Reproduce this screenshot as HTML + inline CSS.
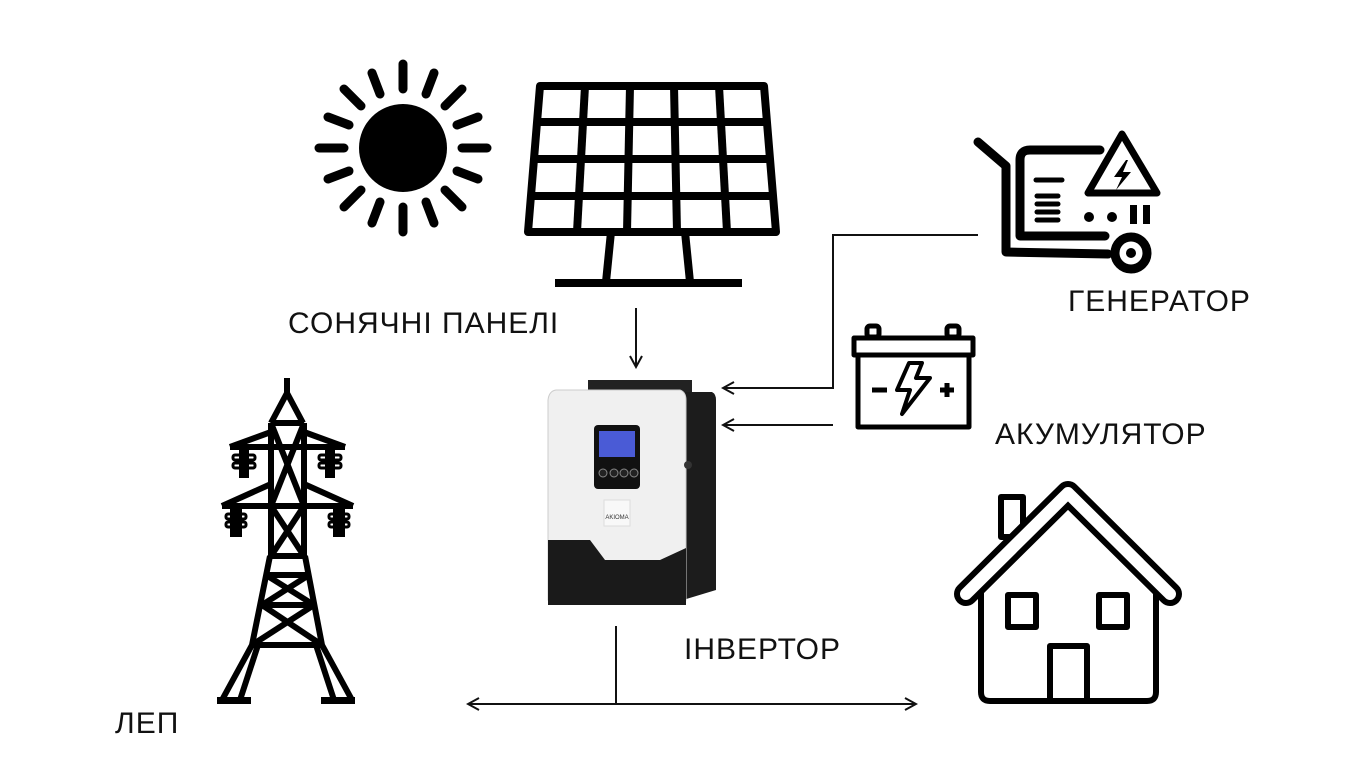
<!DOCTYPE html>
<html><head><meta charset="utf-8"><style>
html,body{margin:0;padding:0;background:#fff;width:1366px;height:768px;overflow:hidden}
svg{position:absolute;left:0;top:0}
.t{font-family:"Liberation Sans",sans-serif;font-size:30px;fill:#111;letter-spacing:1px;font-weight:normal}
</style></head><body>
<svg width="1366" height="768" viewBox="0 0 1366 768">
<defs>
<marker id="ah" markerWidth="14" markerHeight="14" refX="12" refY="7" orient="auto" markerUnits="userSpaceOnUse">
<path d="M1,1 L12,7 L1,13" fill="none" stroke="#111" stroke-width="2"/>
</marker>
</defs>
<!-- sun -->
<circle cx="403" cy="148" r="44" fill="#000"/>
<g stroke="#000" stroke-width="9" stroke-linecap="round">
<line x1="403" y1="89" x2="403" y2="64"/><line x1="403" y1="207" x2="403" y2="232"/>
<line x1="344" y1="148" x2="319" y2="148"/><line x1="462" y1="148" x2="487" y2="148"/>
<line x1="361" y1="106" x2="344" y2="89"/><line x1="445" y1="106" x2="462" y2="89"/>
<line x1="361" y1="190" x2="344" y2="207"/><line x1="445" y1="190" x2="462" y2="207"/>
<line x1="380" y1="94" x2="372" y2="73"/><line x1="426" y1="94" x2="434" y2="73"/>
<line x1="380" y1="202" x2="372" y2="223"/><line x1="426" y1="202" x2="434" y2="223"/>
<line x1="349" y1="125" x2="328" y2="117"/><line x1="457" y1="125" x2="478" y2="117"/>
<line x1="349" y1="171" x2="328" y2="179"/><line x1="457" y1="171" x2="478" y2="179"/>
</g>
<!-- panel -->
<g stroke="#000" stroke-width="8" fill="none" stroke-linejoin="round">
<path d="M540,86 L764,86 L776,232 L528,232 Z"/>
<line x1="585" y1="86" x2="577" y2="232"/><line x1="630" y1="86" x2="627" y2="232"/>
<line x1="674" y1="86" x2="677" y2="232"/><line x1="719" y1="86" x2="727" y2="232"/>
<line x1="537" y1="122" x2="767" y2="122"/><line x1="534" y1="159" x2="770" y2="159"/>
<line x1="531" y1="196" x2="773" y2="196"/>
<line x1="611" y1="232" x2="606" y2="282"/><line x1="685" y1="232" x2="690" y2="282"/>
<line x1="555" y1="283" x2="742" y2="283"/>
</g>
<text class="t" x="288" y="333">СОНЯЧНІ ПАНЕЛІ</text>
<!-- arrows -->
<g stroke="#111" stroke-width="2" fill="none">
<line x1="636" y1="308" x2="636" y2="367" marker-end="url(#ah)"/>
<polyline points="978,235 833,235 833,388 723,388" marker-end="url(#ah)"/>
<line x1="833" y1="425" x2="723" y2="425" marker-end="url(#ah)"/>
<line x1="616" y1="626" x2="616" y2="704"/>
<line x1="616" y1="704" x2="468" y2="704" marker-end="url(#ah)"/>
<line x1="616" y1="704" x2="916" y2="704" marker-end="url(#ah)"/>
</g>
<!-- inverter -->
<rect x="588" y="380" width="104" height="12" fill="#222"/>
<path d="M683,392 L712,392 Q716,394 716,400 L716,590 L683,600 Z" fill="#1c1c1c"/>
<path d="M556,390 L680,390 Q686,392 686,400 L686,600 L548,600 L548,400 Q549,391 556,390 Z" fill="#f0f0f0" stroke="#ccc"/>
<path d="M548,540 L590,540 L605,560 L660,560 L686,548 L686,605 L548,605 Z" fill="#1a1a1a"/>
<rect x="594" y="425" width="46" height="64" rx="4" fill="#111"/>
<rect x="599" y="431" width="36" height="26" fill="#4a5bd6"/>
<g fill="#222" stroke="#888" stroke-width="1"><circle cx="603" cy="473" r="4"/><circle cx="614" cy="473" r="4"/><circle cx="624" cy="473" r="4"/><circle cx="634" cy="473" r="4"/></g>
<rect x="604" y="500" width="26" height="26" fill="#f8f8f8" stroke="#ddd"/>
<text x="617" y="519" font-size="6" text-anchor="middle" font-family="Liberation Sans" fill="#333">AKIOMA</text>
<circle cx="688" cy="465" r="4" fill="#333"/>
<text class="t" x="684" y="659">ІНВЕРТОР</text>
<!-- generator -->
<g stroke="#000" stroke-width="9" fill="none" stroke-linecap="round" stroke-linejoin="round">
<polyline points="978,142 1006,166 1006,252 1108,254"/>
<path d="M1100,150 L1030,150 Q1020,150 1020,160 L1020,236 L1105,236"/>
<path d="M1122,134 L1088,193 L1157,193 Z" stroke-width="7"/>
</g>
<g stroke="#000" stroke-width="5" stroke-linecap="round">
<line x1="1036" y1="180" x2="1062" y2="180"/><line x1="1037" y1="196" x2="1058" y2="196"/>
<line x1="1037" y1="204" x2="1058" y2="204"/><line x1="1037" y1="212" x2="1058" y2="212"/>
<line x1="1037" y1="220" x2="1058" y2="220"/>
</g>
<path d="M1126,160 L1114,177 L1122,177 L1116,190 L1131,172 L1123,172 L1128,160 Z" fill="#000"/>
<circle cx="1089" cy="217" r="5" fill="#000"/><circle cx="1112" cy="217" r="5" fill="#000"/>
<rect x="1130" y="205" width="7" height="19" fill="#000"/><rect x="1143" y="205" width="7" height="19" fill="#000"/>
<circle cx="1131" cy="253" r="16" fill="none" stroke="#000" stroke-width="9"/>
<circle cx="1131" cy="253" r="5" fill="#000"/>
<text class="t" x="1068" y="311">ГЕНЕРАТОР</text>
<!-- battery -->
<g stroke="#000" stroke-width="5" fill="none" stroke-linejoin="round">
<rect x="867" y="326" width="12" height="11" rx="3"/><rect x="947" y="326" width="12" height="11" rx="3"/>
<rect x="854" y="338" width="119" height="17"/>
<rect x="858" y="355" width="111" height="72"/>
<line x1="872" y1="390" x2="887" y2="390"/>
<line x1="940" y1="390" x2="954" y2="390"/><line x1="947" y1="383" x2="947" y2="397"/>
<path d="M909,363 L922,363 L916,378 L930,378 L902,414 L910,390 L897,390 Z" stroke-width="4"/>
</g>
<text class="t" x="995" y="444">АКУМУЛЯТОР</text>
<!-- tower -->
<g stroke="#000" stroke-width="6" fill="none" stroke-linejoin="round">
<line x1="287" y1="378" x2="287" y2="393"/>
<polyline points="271,423 287,393 303,423"/>
<line x1="271" y1="423" x2="271" y2="556"/><line x1="304" y1="423" x2="304" y2="556"/>
<line x1="271" y1="423" x2="304" y2="423"/>
<line x1="230" y1="447" x2="345" y2="447"/>
<polyline points="230,447 271,432"/><polyline points="345,447 304,432"/>
<line x1="222" y1="506" x2="353" y2="506"/>
<polyline points="222,506 271,484"/><polyline points="353,506 304,484"/>
<line x1="271" y1="423" x2="304" y2="506"/><line x1="304" y1="423" x2="271" y2="506"/>
<line x1="271" y1="506" x2="304" y2="556"/><line x1="304" y1="506" x2="271" y2="556"/>
<line x1="270" y1="556" x2="305" y2="556"/>
<polyline points="270,556 252,645 222,700"/><polyline points="305,556 322,645 352,700"/>
<line x1="266" y1="575" x2="309" y2="575"/>
<line x1="262" y1="605" x2="314" y2="605"/><line x1="252" y1="645" x2="322" y2="645"/>
<line x1="266" y1="575" x2="314" y2="605"/><line x1="309" y1="575" x2="262" y2="605"/>
<line x1="262" y1="605" x2="322" y2="645"/><line x1="314" y1="605" x2="252" y2="645"/>
<polyline points="258,645 240,700"/><polyline points="316,645 334,700"/>
</g>
<g fill="#000">
<rect x="217" y="697" width="34" height="7"/><rect x="321" y="697" width="34" height="7"/>
<rect x="239" y="450" width="10" height="28"/><rect x="325" y="450" width="10" height="28"/>
<rect x="230" y="509" width="12" height="28"/><rect x="333" y="509" width="12" height="28"/>
</g>
<g fill="none" stroke="#000" stroke-width="3">
<rect x="233" y="455" width="22" height="5" rx="2"/><rect x="233" y="463" width="22" height="5" rx="2"/>
<rect x="319" y="455" width="22" height="5" rx="2"/><rect x="319" y="463" width="22" height="5" rx="2"/>
<rect x="226" y="514" width="20" height="5" rx="2"/><rect x="226" y="522" width="20" height="5" rx="2"/>
<rect x="329" y="514" width="20" height="5" rx="2"/><rect x="329" y="522" width="20" height="5" rx="2"/>
</g>
<text class="t" x="115" y="733">ЛЕП</text>
<!-- house -->
<g stroke="#000" fill="none" stroke-linecap="round" stroke-linejoin="round">
<rect x="1001" y="497" width="22" height="40" stroke-width="6"/>
<polyline points="966,594 1068,493 1170,594" stroke-width="24"/>
<polyline points="966,594 1068,493 1170,594" stroke="#fff" stroke-width="12"/>
<path d="M981,593 L981,692 Q981,701 990,701 L1147,701 Q1156,701 1156,692 L1156,593" stroke-width="6"/>
<rect x="1008" y="595" width="28" height="32" stroke-width="6"/>
<rect x="1099" y="595" width="28" height="32" stroke-width="6"/>
<polyline points="1050,701 1050,646 1087,646 1087,701" stroke-width="6"/>
</g>
</svg>
</body></html>
